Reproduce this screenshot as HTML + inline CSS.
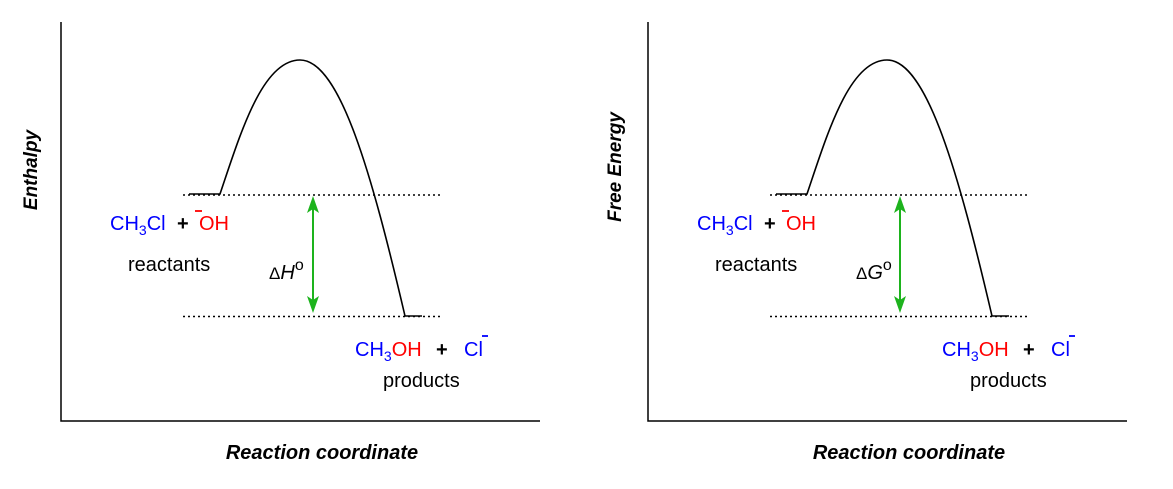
<!DOCTYPE html>
<html><head><style>
html,body{margin:0;padding:0;background:#fff;}
svg{display:block;font-family:"Liberation Sans",Arial,sans-serif;}
</style></head><body>
<svg width="1173" height="489" viewBox="0 0 1173 489" xmlns="http://www.w3.org/2000/svg">
<defs>
<g id="panel">
  <path d="M61 22 V421 H540" fill="none" stroke="#000" stroke-width="1.5"/>
  <line x1="183" y1="195" x2="442" y2="195" stroke="#000" stroke-width="1.5" stroke-dasharray="2,3"/>
  <line x1="183" y1="316.5" x2="442" y2="316.5" stroke="#000" stroke-width="1.5" stroke-dasharray="2,3"/>
  <path d="M189 194 L220 194 C240 135,262 60,300 60 C340 60,372 175,405 316 L422 316" fill="none" stroke="#000" stroke-width="1.6"/>
  <line x1="313" y1="205" x2="313" y2="304" stroke="#1db31d" stroke-width="2"/>
  <polygon points="313,196 307,213 313,209 319,213" fill="#1db31d"/>
  <polygon points="313,313 307,296 313,300 319,296" fill="#1db31d"/>
  <text y="230" font-size="20" fill="#0000ff"><tspan x="110">CH</tspan><tspan font-size="14" dy="5">3</tspan><tspan dy="-5">Cl</tspan></text>
  <text x="177" y="230" font-size="20" font-weight="bold" fill="#000">+</text>
  <text x="199" y="230" font-size="20" fill="#ff0000">OH</text>
  <line x1="195" y1="211" x2="202" y2="211" stroke="#ff0000" stroke-width="1.8"/>
  <text x="128" y="271" font-size="20" fill="#000">reactants</text>
  <text y="356" font-size="20"><tspan x="355" fill="#0000ff">CH</tspan><tspan fill="#0000ff" font-size="14" dy="5">3</tspan><tspan fill="#ff0000" dy="-5">OH</tspan></text>
  <text x="436" y="356" font-size="20" font-weight="bold" fill="#000">+</text>
  <text x="464" y="356" font-size="20" fill="#0000ff">Cl</text>
  <line x1="482" y1="336" x2="488" y2="336" stroke="#0000ff" stroke-width="1.8"/>
  <text x="383" y="387" font-size="20" fill="#000">products</text>
  <text x="322" y="459" font-size="20" font-weight="bold" font-style="italic" text-anchor="middle">Reaction coordinate</text>
</g>
</defs>
<use href="#panel"/>
<use href="#panel" transform="translate(587,0)"/>
<text x="269" y="279" font-size="20"><tspan font-size="17">Δ</tspan><tspan font-style="italic">H</tspan><tspan font-size="16" dy="-9">o</tspan></text>
<text x="856" y="279" font-size="20"><tspan font-size="17">Δ</tspan><tspan font-style="italic">G</tspan><tspan font-size="16" dy="-9">o</tspan></text>
<text transform="translate(37,170) rotate(-90)" font-size="19" font-weight="bold" font-style="italic" text-anchor="middle">Enthalpy</text>
<text transform="translate(621,167) rotate(-90)" font-size="19" font-weight="bold" font-style="italic" text-anchor="middle">Free Energy</text>
</svg>
</body></html>
